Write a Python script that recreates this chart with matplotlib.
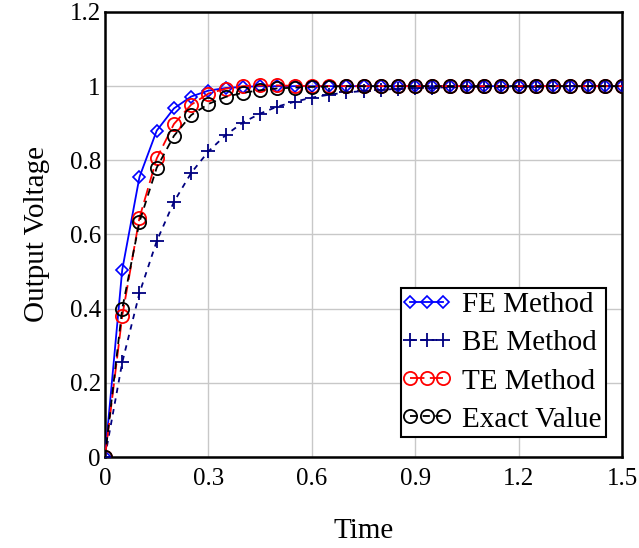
import matplotlib
matplotlib.use("Agg")
import matplotlib.pyplot as plt
from matplotlib.legend_handler import HandlerLine2D
from matplotlib.lines import Line2D

time = [0.00, 0.05, 0.10, 0.15, 0.20, 0.25, 0.30, 0.35, 0.40, 0.45,
        0.50, 0.55, 0.60, 0.65, 0.70, 0.75, 0.80, 0.85, 0.90, 0.95,
        1.00, 1.05, 1.10, 1.15, 1.20, 1.25, 1.30, 1.35, 1.40, 1.45, 1.50]

fe_method = [0.000, 0.505, 0.755, 0.880, 0.940, 0.972, 0.988, 0.995, 0.998, 1.000,
             1.000, 1.000, 1.000, 1.000, 1.000, 1.000, 1.000, 1.000, 1.000, 1.000,
             1.000, 1.000, 1.000, 1.000, 1.000, 1.000, 1.000, 1.000, 1.000, 1.000, 1.000]

be_method = [0.000, 0.255, 0.442, 0.582, 0.688, 0.766, 0.824, 0.868, 0.902, 0.926,
             0.945, 0.958, 0.969, 0.977, 0.983, 0.987, 0.990, 0.993, 0.995, 0.996,
             0.997, 0.998, 0.998, 0.999, 0.999, 0.999, 1.000, 1.000, 1.000, 1.000, 1.000]

te_method = [0.000, 0.380, 0.645, 0.805, 0.898, 0.950, 0.980, 0.993, 1.000, 1.002,
             1.002, 1.001, 1.000, 1.000, 1.000, 1.000, 1.000, 1.000, 1.000, 1.000,
             1.000, 1.000, 1.000, 1.000, 1.000, 1.000, 1.000, 1.000, 1.000, 1.000, 1.000]

exact_value = [0.000, 0.400, 0.634, 0.780, 0.866, 0.922, 0.952, 0.971, 0.982, 0.989,
               0.994, 0.996, 0.998, 0.999, 1.000, 1.000, 1.000, 1.000, 1.000, 1.000,
               1.000, 1.000, 1.000, 1.000, 1.000, 1.000, 1.000, 1.000, 1.000, 1.000, 1.000]

x_ticks = [0, 0.3, 0.6, 0.9, 1.2, 1.5]
x_tick_labels = ["0", "0.3", "0.6", "0.9", "1.2", "1.5"]
y_ticks = [0, 0.2, 0.4, 0.6, 0.8, 1.0, 1.2]
y_tick_labels = ["0", "0.2", "0.4", "0.6", "0.8", "1", "1.2"]

plt.rcParams['font.family'] = ['Liberation Serif', 'DejaVu Serif']

fig = plt.figure(figsize=(6.39, 5.48), dpi=100)
ax = fig.add_axes([105/639, 1 - 457/548, (622-105)/639, (457-12)/548])

ax.plot(time, fe_method, color='#0000FF', linestyle='-', linewidth=1.3,
        marker='D', markersize=6.5, fillstyle='none', markeredgewidth=1.2,
        label='FE Method', zorder=3)
ax.plot(time, be_method, color='#000080', linestyle=(0, (3, 3)), linewidth=1.3,
        marker='+', markersize=10, markeredgewidth=1.3,
        label='BE Method', zorder=3)
ax.plot(time, te_method, color='#FF0000', linestyle=(0, (8, 3)), linewidth=1.3,
        marker='o', markersize=9.5, fillstyle='none', markeredgewidth=1.3,
        label='TE Method', zorder=4)
ax.plot(time, exact_value, color='#000000', linestyle=(0, (4, 3)), linewidth=1.3,
        marker='o', markersize=9.5, fillstyle='none', markeredgewidth=1.3,
        label='Exact Value', zorder=5)

ax.set_xlim(0, 1.5)
ax.set_ylim(0, 1.2)
ax.set_xticks(x_ticks)
ax.set_xticklabels(x_tick_labels)
ax.set_yticks(y_ticks)
ax.set_yticklabels(y_tick_labels)
ax.tick_params(axis='both', length=0, labelsize=18)
ax.tick_params(axis='x', pad=8)
ax.tick_params(axis='y', pad=3)
ax.grid(True, color='#c8c8c8', linewidth=1.0)
ax.set_axisbelow(True)
for s in ax.spines.values():
    s.set_linewidth(1.8)
    s.set_color('black')

ax.set_xlabel('Time', fontsize=21, labelpad=20)
ax.set_ylabel('Output Voltage', fontsize=21, labelpad=14)

leg = ax.legend(loc='lower right', fontsize=21, numpoints=3, frameon=True,
                fancybox=False, edgecolor='black', framealpha=1,
                handlelength=1.44, handletextpad=0.5, borderpad=0.15,
                labelspacing=0.4, borderaxespad=0.0,
                bbox_to_anchor=(0.969, 0.045),
                handler_map={Line2D: HandlerLine2D(marker_pad=0.15)})
leg.get_frame().set_linewidth(1.5)

fig.savefig('out.png', dpi=100)
